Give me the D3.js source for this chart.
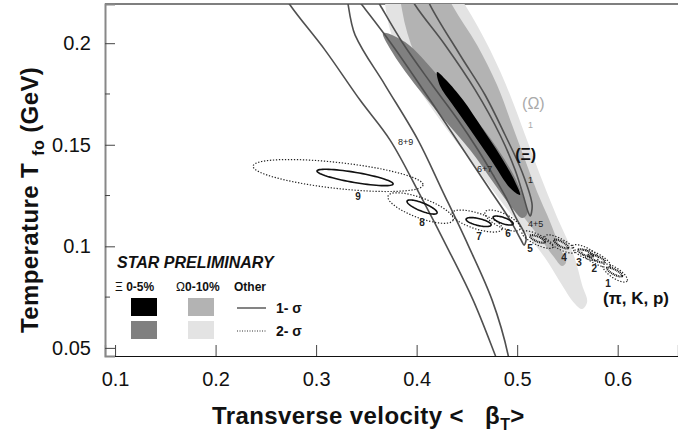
<!DOCTYPE html>
<html>
<head>
<meta charset="utf-8">
<title>Freeze-out T vs beta</title>
<script src="https://d3js.org/d3.v7.min.js"></script>
<style>
body { margin: 0; background: #fff; }
text { font-family: "Liberation Sans", Arial, sans-serif; }
</style>
</head>
<body>
<script>

// axis ticks
var xTicks = [0.1, 0.2, 0.3, 0.4, 0.5, 0.6];
var yTicks = [0.05, 0.1, 0.15, 0.2];
var yMinor = [0.075, 0.125, 0.175];

// Omega 0-10% contours [beta, T]
var omega2 = [[0.3786,0.2410],[0.4233,0.2360],[0.4482,0.2188],[0.4731,0.1966],[0.4930,0.1745],
  [0.5079,0.1548],[0.5228,0.1351],[0.5388,0.1154],[0.5567,0.0950],[0.5646,0.0809],[0.5696,0.0726],
  [0.5646,0.0691],[0.5567,0.0721],[0.5427,0.0824],[0.5278,0.0942],[0.5079,0.1070],[0.4830,0.1228],
  [0.4532,0.1425],[0.4233,0.1622],[0.3935,0.1843],[0.3736,0.2065],[0.3686,0.2262]];
var omega1 = [[0.3835,0.2410],[0.4134,0.2410],[0.4353,0.2188],[0.4601,0.1991],[0.4800,0.1794],
  [0.4950,0.1597],[0.5079,0.1425],[0.5199,0.1267],[0.5328,0.1120],[0.5427,0.0992],[0.5487,0.0923],
  [0.5447,0.0903],[0.5358,0.0952],[0.5228,0.1041],[0.5049,0.1154],[0.4830,0.1302],[0.4532,0.1499],
  [0.4233,0.1720],[0.3985,0.1942],[0.3855,0.2163]];

// Xi 0-5% contours
var xi2 = [[0.3666,0.2050],[0.3885,0.2006],[0.4233,0.1829],[0.4532,0.1661],[0.4800,0.1484],
  [0.4980,0.1336],[0.5079,0.1213],[0.5099,0.1159],[0.5049,0.1139],[0.4950,0.1189],[0.4781,0.1302],
  [0.4532,0.1474],[0.4233,0.1646],[0.3935,0.1829],[0.3756,0.1957]];
var xi1 = [[0.4203,0.1858],[0.4293,0.1819],[0.4462,0.1720],[0.4651,0.1582],[0.4840,0.1440],
  [0.4980,0.1317],[0.5029,0.1253],[0.4930,0.1287],[0.4741,0.1425],[0.4542,0.1568],[0.4353,0.1701],
  [0.4233,0.1789]];

// Xi other centralities (1-sigma)
var other89 = [[0.2522,0.2360],[0.2741,0.2188],[0.3089,0.1966],[0.3437,0.1720],[0.3736,0.1523],
  [0.4034,0.1253],[0.4333,0.0967],[0.4562,0.0735],[0.4781,0.0465],[0.4950,0.0243],[0.4990,0.0194],
  [0.4910,0.0465],[0.4751,0.0735],[0.4512,0.1006],[0.4253,0.1277],[0.4014,0.1523],[0.3686,0.1794],
  [0.3388,0.2040],[0.3189,0.2360]];
var other67 = [[0.3189,0.2360],[0.3457,0.2188],[0.3736,0.2006],[0.4134,0.1720],[0.4333,0.1573],
  [0.4532,0.1425],[0.4731,0.1277],[0.4930,0.1129],[0.5039,0.1031],[0.5069,0.1006],[0.5089,0.1041],
  [0.4990,0.1139],[0.4880,0.1248],[0.4761,0.1351],[0.4611,0.1474],[0.4412,0.1622],[0.4134,0.1809],
  [0.3855,0.2006],[0.3636,0.2188],[0.3437,0.2360]];
var other45 = [[0.3786,0.2360],[0.3985,0.2188],[0.4283,0.1991],[0.4582,0.1770],[0.4830,0.1548],
  [0.4980,0.1376],[0.5059,0.1253],[0.5109,0.1169],[0.5129,0.1149],[0.5149,0.1203],[0.5049,0.1366],
  [0.4880,0.1548],[0.4681,0.1745],[0.4432,0.1942],[0.4134,0.2188],[0.3985,0.2360]];
var otherLoops = [other89, other67, other45];

// pi,K,p fits per centrality: major-axis ends [beta,T] and half width in T
var centLabel = ["9", "8", "7", "6", "5", "4", "3", "2", "1"];
var sig1A = [[0.3009,0.1371],[0.3905,0.1223],[0.4492,0.1134],[0.4761,0.1144],[0.5129,0.1051],
  [0.5368,0.1031],[0.5606,0.0982],[0.5706,0.0957],[0.5895,0.0893]];
var sig1B = [[0.3766,0.1307],[0.4203,0.1164],[0.4741,0.1105],[0.4960,0.1110],[0.5278,0.1021],
  [0.5507,0.0992],[0.5756,0.0952],[0.5875,0.0923],[0.6044,0.0854]];
var sig1W = [0.0025, 0.0020, 0.0017, 0.0015, 0.0012, 0.0012, 0.0012, 0.0012, 0.0012];
var sig2A = [[0.2373,0.1395],[0.3716,0.1248],[0.4353,0.1164],[0.4681,0.1169],[0.5049,0.1070],
  [0.5278,0.1051],[0.5547,0.1001],[0.5646,0.0977],[0.5855,0.0908]];
var sig2B = [[0.4064,0.1302],[0.4363,0.1129],[0.4850,0.1085],[0.5029,0.1085],[0.5358,0.0996],
  [0.5577,0.0972],[0.5806,0.0937],[0.5925,0.0903],[0.6094,0.0829]];
var sig2W = [0.0064, 0.0049, 0.0039, 0.0034, 0.0025, 0.0025, 0.0025, 0.0025, 0.0025];
var labelPos = [[0.3417,0.1228],[0.4054,0.1100],[0.4621,0.1031],[0.4910,0.1046],[0.5129,0.0972],
  [0.5467,0.0928],[0.5616,0.0903],[0.5766,0.0873],[0.5905,0.0800]];

var width = 678, height = 437;
var svg = d3.select("body").append("svg")
  .attr("width", width).attr("height", height);

var x = d3.scaleLinear().domain([0.09, 0.66]).range([105, 678]);
var y = d3.scaleLinear().domain([0.046, 0.2193]).range([356, 4]);

svg.append("clipPath").attr("id", "plot")
  .append("rect").attr("x", 105).attr("y", 4).attr("width", 573).attr("height", 352);

// top frame line
svg.append("line").attr("x1", 105).attr("x2", 678).attr("y1", 4).attr("y2", 4)
  .attr("stroke", "#555").attr("stroke-width", 1.5);

var g = svg.append("g").attr("clip-path", "url(#plot)");

var smooth = d3.line()
  .x(function(d){ return x(d[0]); })
  .y(function(d){ return y(d[1]); })
  .curve(d3.curveCatmullRomClosed.alpha(0.5));

function band(pts, color){
  g.append("path").attr("d", smooth(pts)).attr("fill", color).attr("stroke", "none");
}
band(omega2, "#e3e3e3");
band(omega1, "#b3b3b3");
band(xi2, "#808080");
band(xi1, "#000");

otherLoops.forEach(function(pts){
  g.append("path").attr("d", smooth(pts))
    .attr("fill", "none").attr("stroke", "#505050").attr("stroke-width", 1.6);
});

function ellipse(a, b, w){
  var x1 = x(a[0]), y1 = y(a[1]), x2 = x(b[0]), y2 = y(b[1]);
  var cx = (x1 + x2) / 2, cy = (y1 + y2) / 2;
  var ra = Math.hypot(x2 - x1, y2 - y1) / 2;
  var rb = y(0) - y(w);
  var th = Math.atan2(y2 - y1, x2 - x1);
  var p = [];
  for (var i = 0; i < 72; i++) {
    var t = i / 72 * 2 * Math.PI;
    var ex = ra * Math.cos(t), ey = rb * Math.sin(t);
    p.push([cx + ex * Math.cos(th) - ey * Math.sin(th), cy + ex * Math.sin(th) + ey * Math.cos(th)]);
  }
  return "M" + p.join("L") + "Z";
}

centLabel.forEach(function(c, i){
  g.append("path").attr("d", ellipse(sig2A[i], sig2B[i], sig2W[i]))
    .attr("fill", "none").attr("stroke", "#222").attr("stroke-width", 1.2)
    .attr("stroke-dasharray", "1.3,1.7");
  g.append("path").attr("d", ellipse(sig1A[i], sig1B[i], sig1W[i]))
    .attr("fill", "none").attr("stroke", "#111")
    .attr("stroke-width", i < 4 ? 1.6 : 2.2)
    .attr("stroke-dasharray", i < 4 ? null : "1,0.8");
  g.append("text").attr("x", x(labelPos[i][0])).attr("y", y(labelPos[i][1]))
    .attr("text-anchor", "middle").attr("font-size", 10).attr("font-weight", "bold")
    .attr("fill", "#222").text(c);
});

// small labels for other contours
var otherText = [["8+9", 0.3815, 0.1499], ["6+7", 0.4601, 0.1366], ["1", 0.5109, 0.1312], ["4+5", 0.5109, 0.1095]];
otherText.forEach(function(d){
  g.append("text").attr("x", x(d[1])).attr("y", y(d[2]))
    .attr("font-size", 9).attr("fill", "#222").text(d[0]);
});

g.append("text").attr("x", x(0.4980)).attr("y", y(0.1425)).attr("font-size", 16)
  .attr("font-weight", "bold").attr("fill", "#111").text("(\u039E)");
g.append("text").attr("x", x(0.5049)).attr("y", y(0.1676)).attr("font-size", 16)
  .attr("fill", "#aaa").text("(\u03A9)");
g.append("text").attr("x", x(0.5109)).attr("y", y(0.1582)).attr("font-size", 9)
  .attr("fill", "#aaa").text("1");
g.append("text").attr("x", x(0.5855)).attr("y", y(0.0716)).attr("font-size", 17)
  .attr("font-weight", "bold").attr("fill", "#111").text("(\u03C0, K, p)");

// axes
var xAxis = d3.axisBottom(x).tickValues(xTicks).tickSize(-11).tickPadding(16)
  .tickFormat(d3.format(".1f"));
var gx = svg.append("g").attr("transform", "translate(0,356)").call(xAxis);
gx.select(".domain").attr("stroke", "#111").attr("stroke-width", 1.2);
gx.selectAll(".tick line").attr("stroke", "#444");
gx.selectAll("text").attr("font-size", 20).attr("fill", "#111");

var yAxis = d3.axisLeft(y).tickValues(yTicks).tickSize(-10).tickPadding(14)
  .tickFormat(function(d){ return d === 0.05 || d === 0.15 ? d3.format(".2f")(d) : d3.format(".1f")(d); });
var gy = svg.append("g").attr("transform", "translate(105,0)").call(yAxis);
gy.select(".domain").attr("stroke", "#888").attr("stroke-width", 2);
gy.selectAll(".tick line").attr("stroke", "#444");
gy.selectAll("text").attr("font-size", 20).attr("fill", "#111");
gy.selectAll(".minor").data(yMinor).enter().append("line")
  .attr("x1", 0).attr("x2", 5).attr("y1", function(d){ return y(d); }).attr("y2", function(d){ return y(d); })
  .attr("stroke", "#444");

// axis titles
var xt = svg.append("text").attr("x", 212).attr("y", 424).attr("font-size", 24)
  .attr("font-weight", "bold").attr("fill", "#111").attr("letter-spacing", 0.4);
xt.append("tspan").text("Transverse velocity <\u00A0\u00A0\u00A0\u03B2");
xt.append("tspan").attr("font-size", 16).attr("dy", 6).text("T");
xt.append("tspan").attr("dy", -6).text(">");

var yt = svg.append("text").attr("transform", "translate(38,333) rotate(-90)")
  .attr("font-size", 24).attr("font-weight", "bold").attr("fill", "#111").attr("letter-spacing", 0.4);
yt.append("tspan").text("Temperature T\u00A0");
yt.append("tspan").attr("font-size", 16).attr("dy", 6).text("fo");
yt.append("tspan").attr("dy", -6).text("\u00A0(GeV)");

// legend
var lg = svg.append("g");
lg.append("text").attr("x", 117).attr("y", 268).attr("font-size", 16)
  .attr("font-weight", "bold").attr("font-style", "italic").attr("fill", "#111")
  .text("STAR PRELIMINARY");
var hdr = [["\u039E", "\u00A00-5%", 115], ["\u03A9", "0-10%", 176], ["", "Other", 234]];
hdr.forEach(function(h){
  var t = lg.append("text").attr("x", h[2]).attr("y", 291).attr("font-size", 12).attr("fill", "#111");
  t.append("tspan").attr("font-size", 12).text(h[0]);
  t.append("tspan").attr("font-weight", "bold").text(h[1]);
});
var sw = [["#000", 131, 298], ["#b3b3b3", 188, 298], ["#808080", 131, 321], ["#e3e3e3", 188, 321]];
sw.forEach(function(s){
  lg.append("rect").attr("x", s[1]).attr("y", s[2]).attr("width", 26).attr("height", 18).attr("fill", s[0]);
});
lg.append("line").attr("x1", 237).attr("x2", 266).attr("y1", 308).attr("y2", 308)
  .attr("stroke", "#333").attr("stroke-width", 1.2);
lg.append("line").attr("x1", 237).attr("x2", 266).attr("y1", 331).attr("y2", 331)
  .attr("stroke", "#333").attr("stroke-width", 1.2).attr("stroke-dasharray", "1,1.5");
lg.append("text").attr("x", 276).attr("y", 313).attr("font-size", 14).attr("font-weight", "bold")
  .attr("fill", "#111").text("1- \u03C3");
lg.append("text").attr("x", 276).attr("y", 336).attr("font-size", 14).attr("font-weight", "bold")
  .attr("fill", "#111").text("2- \u03C3");

</script>
</body>
</html>
